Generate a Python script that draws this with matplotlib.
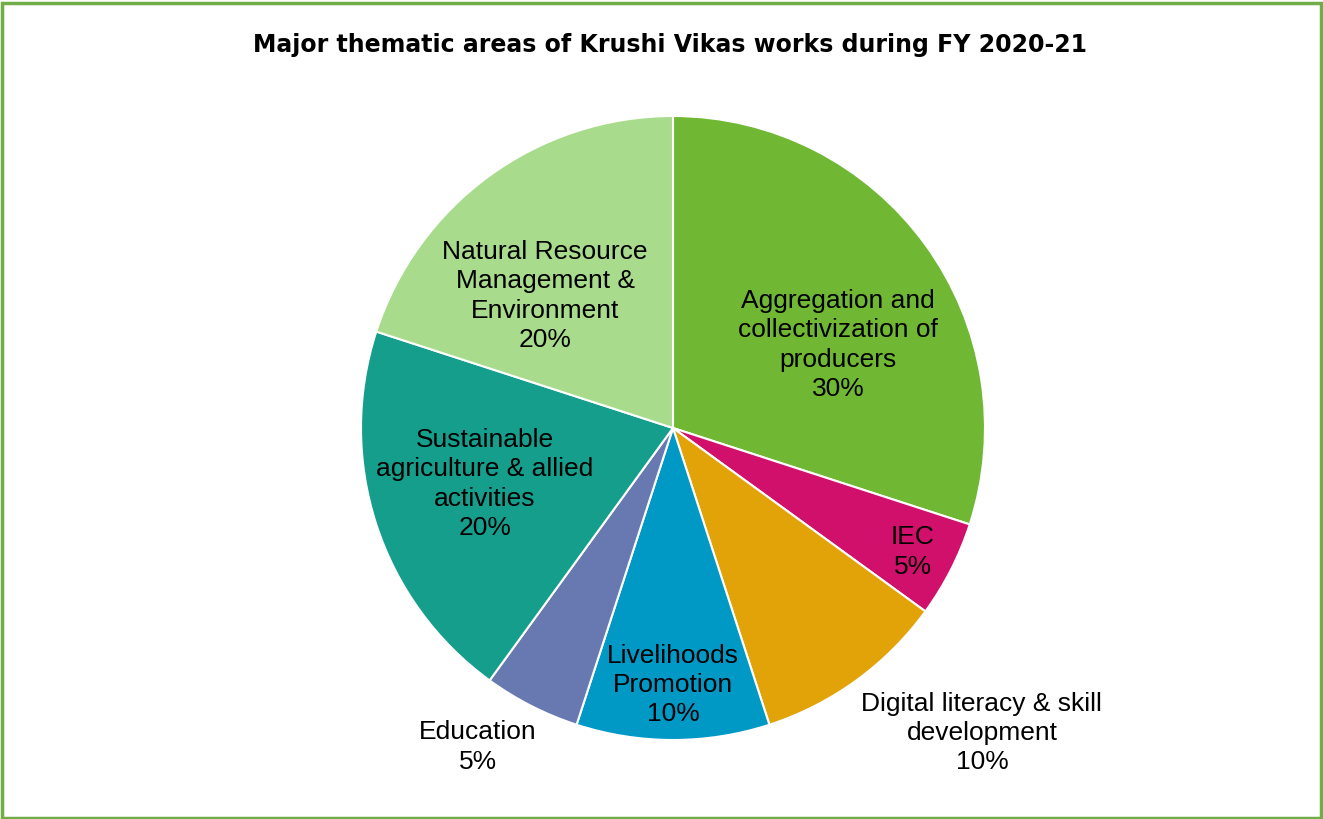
import matplotlib
matplotlib.use("Agg")
import matplotlib.pyplot as plt
from matplotlib.patches import Rectangle

categories = ["Aggregation and\ncollectivization of\nproducers", "IEC", "Digital literacy & skill\ndevelopment",
              "Livelihoods\nPromotion", "Education", "Sustainable\nagriculture & allied\nactivities",
              "Natural Resource\nManagement &\nEnvironment"]
values = [30, 5, 10, 10, 5, 20, 20]
colors = ["#70B833", "#D0106A", "#E2A308", "#0099C6", "#6779B0", "#169E8C", "#A8DC8C"]
label_pos = [(0.529, 0.266), (0.769, -0.397), (0.990, -0.978), (0.0, -0.824),
             (-0.625, -1.022), (-0.603, -0.179), (-0.410, 0.423)]

W, H = 1323, 819
fig = plt.figure(figsize=(W / 100, H / 100), dpi=100)
fig.patch.set_facecolor("white")

cx, cy, R = 673, 428, 312
ax = fig.add_axes([(cx - R) / W, (H - cy - R) / H, 2 * R / W, 2 * R / H])
ax.pie(values, colors=colors, startangle=90, counterclock=False, radius=1,
       wedgeprops=dict(edgecolor="white", linewidth=1.5))
ax.set_xlim(-1, 1)
ax.set_ylim(-1, 1)
ax.set_aspect("equal")
ax.axis("off")

total = sum(values)
for cat, v, (x, y) in zip(categories, values, label_pos):
    ax.text(x, y, f"{cat}\n{round(100 * v / total)}%", ha="center", va="center",
            fontsize=19, family="Liberation Sans", color="black", linespacing=1.28,
            clip_on=False)

fig.text(670 / W, 1 - 45 / H, "Major thematic areas of Krushi Vikas works during FY 2020-21",
         ha="center", va="center", fontsize=17, fontweight="bold", family="DejaVu Sans")

fig.add_artist(Rectangle((1.5 / W, 1.5 / H), (W - 4) / W, (H - 4) / H, transform=fig.transFigure,
                         fill=False, edgecolor="#70AD47", linewidth=2.5))

fig.savefig("out.png", dpi=100, facecolor="white")
